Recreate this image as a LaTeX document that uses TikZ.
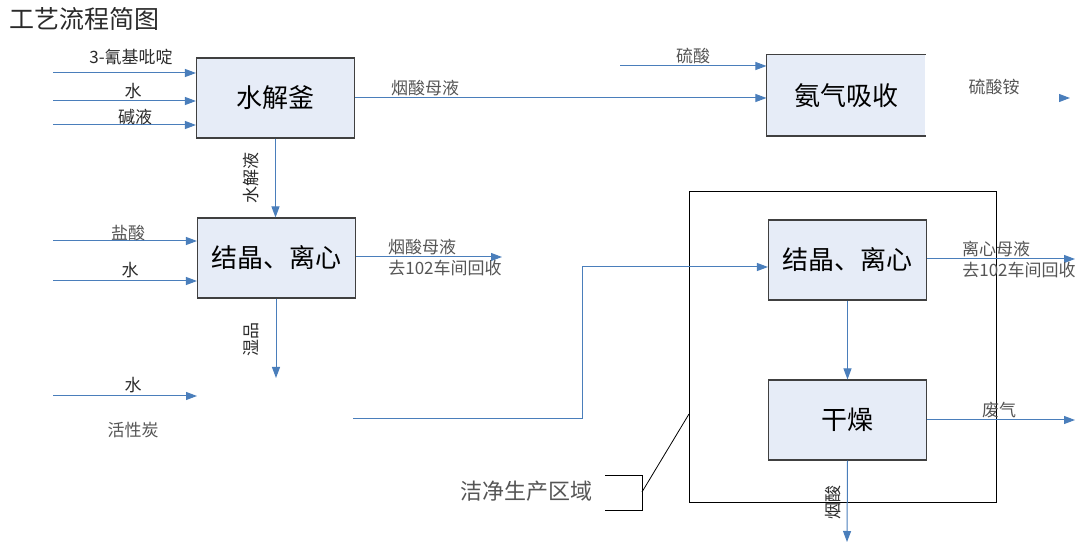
\documentclass[tikz,border=0pt]{standalone}
\usepackage{fontspec}
\setmainfont{Noto Sans CJK SC}
\usetikzlibrary{arrows.meta}
\definecolor{flow}{HTML}{4A7EBB}
\definecolor{boxfill}{HTML}{E6ECF7}
\definecolor{boxline}{HTML}{404040}
\definecolor{txt}{HTML}{2A2A2A}
\definecolor{txtlight}{HTML}{555555}
\tikzset{
  proc/.style={draw=boxline, fill=boxfill, line width=1.1pt, minimum width=158pt, minimum height=80pt, inner sep=0pt, text=black, font=\fontsize{26}{26}\selectfont},
  flowarrow/.style={draw=flow, line width=1pt, -{Triangle[length=11pt,width=8pt]}, fill=none},
  lbl/.style={font=\fontsize{17}{17}\selectfont, text=txt, inner sep=1pt},
  lbllight/.style={lbl, text=txtlight},
  zonebox/.style={draw=black, line width=1pt, minimum width=307pt, minimum height=310pt, inner sep=0pt},
}
\begin{document}
\begin{tikzpicture}[x=1pt,y=-1pt]
\useasboundingbox (0,0) rectangle (1088,545);

% title
\node[font=\fontsize{25}{25}\selectfont, text=txt, anchor=west, inner sep=0pt] (title) at (9,19) {工艺流程简图};

% zone
\node[zonebox] (zone) at (842.5,347) {};

% process boxes
\node[proc] (hj) at (275.5,98) {水解釜};
\node[proc] (jl1) at (276.5,258) {结晶、离心};
\node[proc, draw=none] (aq) at (846,95.5) {氨气吸收};
\draw[draw=boxline, line width=1.1pt] (aq.north east) -- (aq.north west) -- (aq.south west) -- (aq.south east);
\node[proc] (jl2) at (847.5,260) {结晶、离心};
\node[proc] (gz) at (847.5,420) {干燥};

% free-end coordinates
\coordinate (i1) at (53,73);
\coordinate (i2) at (53,101);
\coordinate (i3) at (53,125);
\coordinate (i4) at (53,241);
\coordinate (i5) at (53,281);
\coordinate (i6) at (53,396);
\coordinate (i7) at (197,396);
\coordinate (s1) at (620,66);
\coordinate (o1) at (502,257);
\coordinate (o2) at (276,378);
\coordinate (p0) at (353,419);
\coordinate (p1) at (582,419);
\coordinate (o3) at (1075,259);
\coordinate (o4) at (1075,420);
\coordinate (o5) at (847,542);
\coordinate (a1) at (1059,98);
\coordinate (a2) at (1070,98);
\coordinate (b1) at (605,475);
\coordinate (b2) at (642,475);
\coordinate (b3) at (642,510);
\coordinate (b4) at (605,510);
\coordinate (b5) at (642,492);
\coordinate (b6) at (689,414);

% inputs to hydrolysis
\draw[flowarrow] (i1) -- (i1 -| hj.west);
\draw[flowarrow] (i2) -- (i2 -| hj.west);
\draw[flowarrow] (i3) -- (i3 -| hj.west);
\node[lbl] (l1) at (131,57) {3-氰基吡啶};
\node[lbl] (l2) at (133,91) {水};
\node[lbl] (l3) at (135,117) {碱液};

% hydrolysis to ammonia absorption
\draw[flowarrow] (hj.east) -- (hj.east -| aq.west);
\node[lbllight] (l4) at (425,88) {烟酸母液};
\draw[flowarrow] (s1) -- (s1 -| aq.west);
\node[lbllight] (l5) at (693,56) {硫酸};
\node[lbllight] (l6) at (994,87) {硫酸铵};
\draw[flowarrow] (a1) -- (a2);

% hydrolysis to crystallisation
\draw[flowarrow] (hj.south) -- (hj.south |- jl1.north);
\node[lbl, rotate=90] (l7) at (251,178) {水解液};

% inputs to crystallisation
\draw[flowarrow] (i4) -- (i4 -| jl1.west);
\draw[flowarrow] (i5) -- (i5 -| jl1.west);
\node[lbllight] (l8) at (128,233) {盐酸};
\node[lbl] (l9) at (130,270) {水};

% crystallisation outputs
\draw[flowarrow] (jl1.east |- o1) -- (o1);
\node[lbllight] (l10) at (422,247) {烟酸母液};
\node[lbllight] (l11) at (445,268) {去102车间回收};
\draw[flowarrow] (jl1.south -| o2) -- (o2);
\node[lbl, rotate=90] (l12) at (251,340) {湿品};

% water and carbon
\draw[flowarrow] (i6) -- (i7);
\node[lbl] (l13) at (133,385) {水};
\node[lbllight] (l14) at (133,430) {活性炭};

% route into clean zone
\draw[flowarrow] (p0) -- (p1) |- ([yshift=-7pt]jl2.west);

% right crystallisation
\draw[flowarrow] (jl2.east |- o3) -- (o3);
\node[lbllight] (l15) at (996,249) {离心母液};
\node[lbllight] (l16) at (1019,270) {去102车间回收};
\draw[flowarrow] (jl2.south) -- (gz.north);

% drying
\draw[flowarrow] (gz.east) -- (o4);
\node[lbllight] (l17) at (999,410) {废气};
\draw[flowarrow] (gz.south) -- (o5);
\node[lbl, rotate=90] (l18) at (833,502) {烟酸};

% zone callout
\node[font=\fontsize{22}{22}\selectfont, text=txtlight, inner sep=0pt] (zlabel) at (526,491) {洁净生产区域};
\draw[black, line width=0.8pt] (b1) -- (b2) -- (b3) -- (b4);
\draw[black, line width=0.8pt] (b5) -- (b6);
\end{tikzpicture}
\end{document}
